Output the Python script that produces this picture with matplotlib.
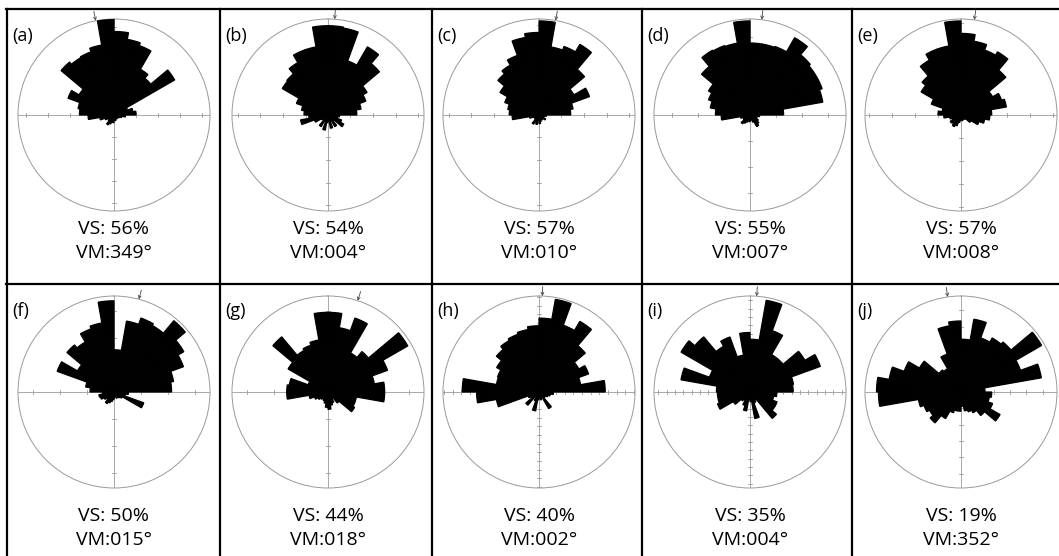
import numpy as np
import matplotlib
matplotlib.use("Agg")
import matplotlib.pyplot as plt
from matplotlib.lines import Line2D

plt.rcParams['font.family'] = ['Open Sans', 'DejaVu Sans']

# panel letters, vector strength (%) and vector mean (deg)
labels = ["a", "b", "c", "d", "e", "f", "g", "h", "i", "j"]
vs = [56, 54, 57, 55, 57, 50, 44, 40, 35, 19]
vm = [349, 4, 10, 7, 8, 15, 18, 2, 4, 352]

# 10 degree bins (0-10, 10-20, ... 350-360), length as fraction of the outer circle
rose_a = [0.87, 0.80, 0.77, 0.55, 0.50, 0.73, 0.15, 0.20, 0.23, 0.12,
          0.08, 0.06, 0.05, 0.04, 0.05, 0.04, 0.06, 0.05, 0.08, 0.07,
          0.10, 0.12, 0.08, 0.06, 0.10, 0.15, 0.27, 0.36, 0.38, 0.51,
          0.42, 0.72, 0.69, 0.70, 0.74, 1.00]
rose_b = [0.93, 0.92, 0.60, 0.82, 0.70, 0.47, 0.42, 0.35, 0.30, 0.12,
          0.10, 0.15, 0.19, 0.08, 0.14, 0.06, 0.14, 0.06, 0.08, 0.16,
          0.07, 0.14, 0.06, 0.08, 0.15, 0.29, 0.20, 0.25, 0.28, 0.35,
          0.55, 0.56, 0.63, 0.72, 0.72, 0.93]
rose_c = [0.98, 0.72, 0.76, 0.85, 0.62, 0.42, 0.56, 0.36, 0.33, 0.08,
          0.06, 0.05, 0.08, 0.05, 0.06, 0.05, 0.07, 0.09, 0.06, 0.10,
          0.08, 0.11, 0.06, 0.05, 0.06, 0.10, 0.28, 0.31, 0.33, 0.38,
          0.47, 0.56, 0.60, 0.66, 0.82, 0.86]
rose_d = [0.75, 0.75, 0.76, 0.93, 0.82, 0.80, 0.80, 0.77, 0.35, 0.10,
          0.06, 0.08, 0.10, 0.12, 0.14, 0.08, 0.05, 0.06, 0.07, 0.06,
          0.08, 0.10, 0.12, 0.08, 0.06, 0.10, 0.30, 0.36, 0.42, 0.46,
          0.50, 0.66, 0.78, 0.77, 0.76, 0.98]
rose_e = [0.85, 0.78, 0.72, 0.76, 0.61, 0.38, 0.45, 0.48, 0.32, 0.30,
          0.25, 0.20, 0.12, 0.06, 0.05, 0.05, 0.06, 0.05, 0.06, 0.08,
          0.12, 0.14, 0.12, 0.13, 0.10, 0.12, 0.18, 0.24, 0.20, 0.33,
          0.48, 0.53, 0.66, 0.73, 0.73, 0.98]
rose_f = [0.44, 0.75, 0.82, 0.80, 0.97, 0.84, 0.77, 0.63, 0.60, 0.15,
          0.12, 0.33, 0.10, 0.08, 0.06, 0.07, 0.05, 0.06, 0.08, 0.10,
          0.12, 0.14, 0.10, 0.12, 0.15, 0.16, 0.12, 0.25, 0.30, 0.63,
          0.44, 0.64, 0.60, 0.70, 0.73, 0.95]
rose_g = [0.83, 0.68, 0.82, 0.47, 0.55, 0.96, 0.66, 0.49, 0.59, 0.59,
          0.30, 0.30, 0.32, 0.15, 0.08, 0.12, 0.14, 0.18, 0.16, 0.12,
          0.10, 0.08, 0.10, 0.12, 0.15, 0.20, 0.43, 0.43, 0.41, 0.22,
          0.48, 0.75, 0.50, 0.52, 0.55, 0.83]
rose_h = [0.77, 0.98, 0.74, 0.85, 0.63, 0.48, 0.55, 0.44, 0.69, 0.15,
          0.12, 0.10, 0.08, 0.08, 0.20, 0.05, 0.08, 0.06, 0.08, 0.20,
          0.10, 0.06, 0.18, 0.10, 0.12, 0.45, 0.65, 0.80, 0.45, 0.46,
          0.51, 0.58, 0.62, 0.64, 0.66, 0.69]
rose_i = [0.55, 0.97, 0.68, 0.45, 0.45, 0.66, 0.78, 0.46, 0.45, 0.28,
          0.25, 0.30, 0.30, 0.36, 0.10, 0.12, 0.28, 0.10, 0.08, 0.20,
          0.15, 0.10, 0.12, 0.20, 0.36, 0.34, 0.34, 0.35, 0.73, 0.45,
          0.83, 0.75, 0.55, 0.61, 0.39, 0.62]
rose_j = [0.55, 0.77, 0.60, 0.65, 0.68, 0.97, 0.66, 0.85, 0.25, 0.32,
          0.30, 0.35, 0.47, 0.32, 0.25, 0.22, 0.20, 0.15, 0.20, 0.20,
          0.23, 0.32, 0.42, 0.38, 0.41, 0.45, 0.86, 0.88, 0.76, 0.63,
          0.50, 0.30, 0.28, 0.42, 0.70, 0.74]
roses = [rose_a, rose_b, rose_c, rose_d, rose_e, rose_f, rose_g, rose_h, rose_i, rose_j]

# spacing of the scale ticks on the cross (fraction of radius)
tick_step = [0.23, 0.235, 0.235, 0.27, 0.24, 0.28, 0.28, 0.09, 0.087, 0.17]

W, H = 1059, 556
fig = plt.figure(figsize=(W / 100, H / 100), dpi=100)

centers_x = [114, 328, 539, 750, 961]
centers_y = [115, 392]
panel_left = [7, 220, 432, 642, 852]
panel_top = [9, 284]
vs_y = [229, 516]
vm_y = [253, 540]
R = 96
grey = '#9a9a9a'

edges = np.deg2rad(np.arange(0, 360, 10))

for i, lab in enumerate(labels):
    row, col = i // 5, i % 5
    cx, cy = centers_x[col], centers_y[row]
    ax = fig.add_axes([(cx - R) / W, (H - cy - R) / H, 2 * R / W, 2 * R / H],
                      projection='polar')
    ax.set_theta_zero_location('N')
    ax.set_theta_direction(-1)
    ax.set_ylim(0, 1)
    ax.grid(False)
    ax.set_xticks([])
    ax.set_yticks([])
    ax.spines['polar'].set_color(grey)
    ax.spines['polar'].set_linewidth(0.7)
    ax.patch.set_alpha(0)

    # cross with scale ticks
    for th in [0, np.pi / 2, np.pi, 1.5 * np.pi]:
        ax.plot([th, th], [0, 1], color=grey, lw=0.6, zorder=1)
        r = tick_step[i]
        while r < 0.99:
            d = 2.5 / (r * R)
            ax.plot([th - d, th + d], [r, r], color=grey, lw=0.6, zorder=1)
            r += tick_step[i]

    ax.bar(edges, roses[i], width=np.deg2rad(10), align='edge', bottom=0,
           color='black', edgecolor='black', linewidth=0.9, joinstyle='miter',
           zorder=3)

    # vector mean arrow
    t = np.deg2rad(vm[i])
    ax.annotate('', xy=(t, 1.0), xytext=(t, 1.1),
                arrowprops=dict(arrowstyle='->', lw=0.6, color='#444444',
                                shrinkA=0, shrinkB=0, mutation_scale=5),
                annotation_clip=False, zorder=4)

    fig.text(cx / W, 1 - vs_y[row] / H, f"VS: {vs[i]}%", ha='center', va='center',
             fontsize=14)
    fig.text(cx / W, 1 - vm_y[row] / H, f"VM:{vm[i]:03d}\u00b0", ha='center',
             va='center', fontsize=14)
    fig.text((panel_left[col] + 5) / W, 1 - (panel_top[row] + 18) / H, f"({lab})",
             ha='left', va='top', fontsize=13)

# panel frame lines
for x in panel_left:
    fig.add_artist(Line2D([x / W, x / W], [0, 1 - 9 / H], color='black', lw=1.6,
                          transform=fig.transFigure))
for y in panel_top:
    fig.add_artist(Line2D([6 / W, 1], [1 - y / H, 1 - y / H], color='black', lw=1.6,
                          transform=fig.transFigure))

fig.savefig('out.png', dpi=100)
